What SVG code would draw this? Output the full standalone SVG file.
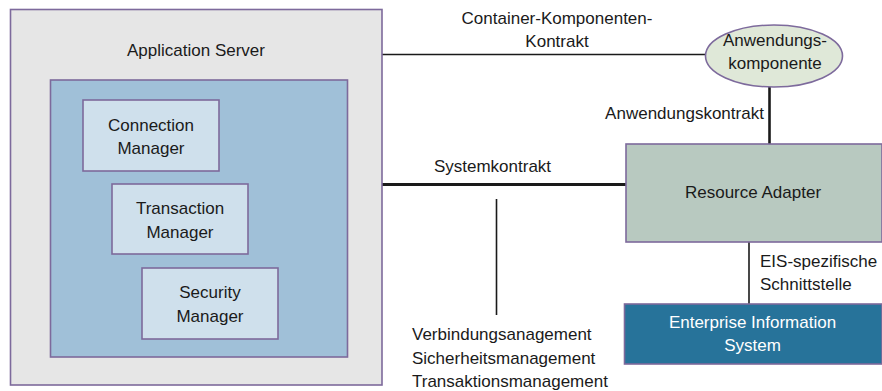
<svg xmlns="http://www.w3.org/2000/svg" width="882" height="391" viewBox="0 0 882 391">
<style>
text{font-family:"Liberation Sans",Arial,sans-serif;font-size:17px;fill:#1a1a1a}
.c{text-anchor:middle}
.w{fill:#ffffff}
.box{stroke:#7d6a9c;stroke-width:1.6}
.ln{stroke:#1a1a1a;fill:none}
</style>
<rect width="882" height="391" fill="#ffffff"/>
<g id="connectors">
<line class="ln" x1="382" y1="54.5" x2="706" y2="54.5" stroke-width="1.6"/>
<line class="ln" x1="769.5" y1="87" x2="769.5" y2="144" stroke-width="2.6"/>
<line class="ln" x1="382" y1="184.5" x2="626" y2="184.5" stroke-width="3"/>
<line class="ln" x1="496.5" y1="199" x2="496.5" y2="315" stroke-width="1.6"/>
<line class="ln" x1="749" y1="242" x2="749" y2="304" stroke-width="1.6"/>
</g>
<g id="application-server">
<rect class="box" x="10.5" y="9.5" width="371.5" height="375.5" fill="#e6e6e6"/>
<text class="c" x="196" y="55.5">Application Server</text>
</g>
<g id="container">
<rect class="box" x="50.5" y="80" width="297" height="277" fill="#a0c0d8"/>
</g>
<g id="connection-manager">
<rect class="box" x="83" y="100" width="136" height="71" fill="#cfe0ec"/>
<text class="c" x="151" y="130.5">Connection</text>
<text class="c" x="151" y="153.5">Manager</text>
</g>
<g id="transaction-manager">
<rect class="box" x="112" y="184" width="136" height="70" fill="#cfe0ec"/>
<text class="c" x="180" y="214">Transaction</text>
<text class="c" x="180" y="237.5">Manager</text>
</g>
<g id="security-manager">
<rect class="box" x="142" y="268" width="136" height="71" fill="#cfe0ec"/>
<text class="c" x="210" y="298">Security</text>
<text class="c" x="210" y="321.5">Manager</text>
</g>
<g id="anwendungskomponente">
<ellipse class="box" cx="774" cy="56" rx="68.5" ry="31" fill="#dfe8d8"/>
<text class="c" x="775" y="45.5">Anwendungs-</text>
<text class="c" x="775" y="68.5">komponente</text>
</g>
<g id="resource-adapter">
<rect class="box" x="626" y="144" width="256" height="98" fill="#b8c9c0"/>
<text class="c" x="753" y="197.5">Resource Adapter</text>
</g>
<g id="eis">
<rect class="box" x="624.5" y="304" width="257.5" height="60" fill="#27739a"/>
<text class="c w" x="752.5" y="327.5">Enterprise Information</text>
<text class="c w" x="752.5" y="350.5">System</text>
</g>
<g id="labels">
<text class="c" x="557" y="23.5">Container-Komponenten-</text>
<text class="c" x="557" y="46.5">Kontrakt</text>
<text class="c" x="684.5" y="118.5">Anwendungskontrakt</text>
<text class="c" x="492.5" y="171.5">Systemkontrakt</text>
<text x="760" y="266.5">EIS-spezifische</text>
<text x="760" y="290">Schnittstelle</text>
<text x="412" y="340">Verbindungsanagement</text>
<text x="412" y="363.5">Sicherheitsmanagement</text>
<text x="412" y="387">Transaktionsmanagement</text>
</g>
</svg>
